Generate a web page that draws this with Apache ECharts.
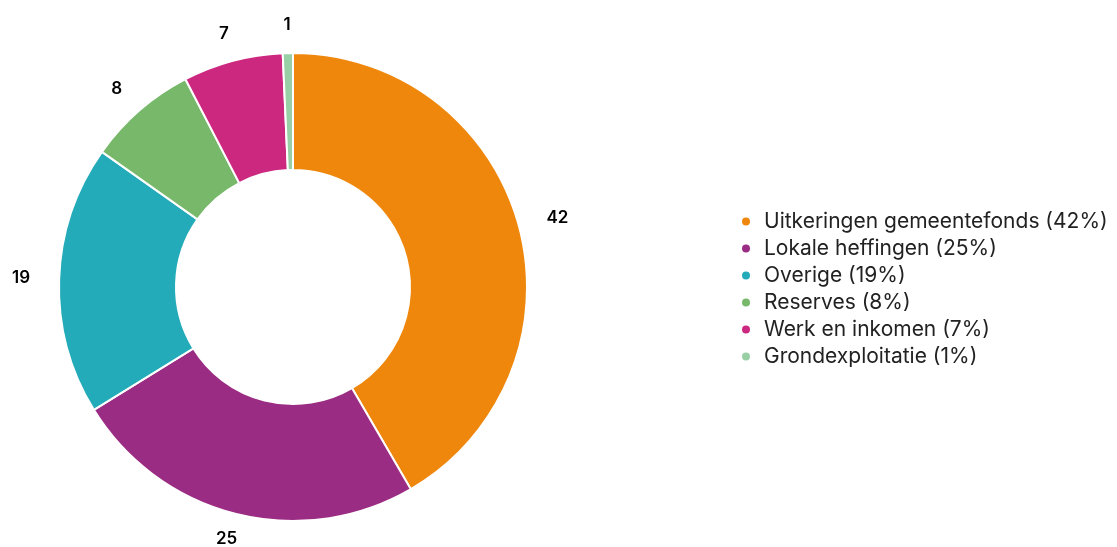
<!DOCTYPE html>
<html>
<head>
<meta charset="utf-8">
<script src="https://cdn.jsdelivr.net/npm/echarts@6/dist/echarts.min.js"></script>
<style>
  html, body { margin: 0; padding: 0; background: #fff; }
  #chart { width: 1117px; height: 547px; }
</style>
</head>
<body>
<div id="chart"></div>
<script>
// shares in %, slice sizes; labels show them rounded
const categories = ['Uitkeringen gemeentefonds', 'Lokale heffingen', 'Overige', 'Reserves', 'Werk en inkomen', 'Grondexploitatie']
const values = [41.6, 24.6, 18.6, 7.6, 6.9, 0.7]
const colors = ['#ee870c', '#9b2c83', '#23abb9', '#77b86a', '#cc2880', '#99cfa5']

const chart = echarts.init(document.getElementById('chart'))
chart.setOption({
  animation: false,
  color: colors,
  legend: {
    orient: 'vertical',
    left: 735,
    top: 206,
    icon: 'circle',
    itemWidth: 26,
    itemHeight: 10,
    itemGap: 6,
    textStyle: {
      fontFamily: 'Inter',
      fontSize: 21,
      lineHeight: 21,
      color: '#222'
    },
    formatter: name => name + ' (' + Math.round(values[categories.indexOf(name)]) + '%)'
  },
  series: [
    {
      type: 'pie',
      center: [293, 287],
      radius: [117, 234],
      startAngle: 90,
      avoidLabelOverlap: false,
      itemStyle: {
        borderColor: '#fff',
        borderWidth: 2
      },
      label: {
        position: 'outside',
        color: '#000',
        fontFamily: 'Inter',
        fontSize: 17,
        fontWeight: 600,
        formatter: p => Math.round(p.value)
      },
      // invisible guide line, only used to place the labels
      labelLine: {
        show: true,
        length: 27,
        length2: 0,
        lineStyle: { opacity: 0 }
      },
      labelLayout: p => {
        const pts = p.labelLinePoints
        if (!pts) return {}
        const dx = pts[1][0] - pts[0][0]
        const dy = pts[1][1] - pts[0][1]
        const len = Math.hypot(dx, dy) || 1
        const half = p.labelRect.width / 2 + 2
        return {
          x: pts[1][0] + dx / len * half,
          y: pts[1][1] - 1,
          align: 'center',
          verticalAlign: 'middle'
        }
      },
      data: categories.map((c, i) => ({ name: c, value: values[i] }))
    }
  ]
})
</script>
</body>
</html>
